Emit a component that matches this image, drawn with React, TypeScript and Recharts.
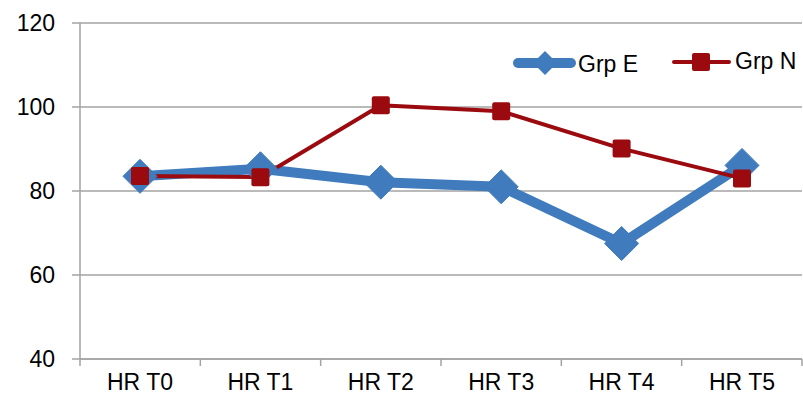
import React from 'react'
import { LineChart, Line, XAxis, YAxis, CartesianGrid, Legend } from 'recharts'

const categories = ['HR T0', 'HR T1', 'HR T2', 'HR T3', 'HR T4', 'HR T5']
const grpE = [83.5, 85.3, 82.1, 81.0, 67.5, 86.1]
const grpN = [83.6, 83.3, 100.4, 99.0, 90.1, 83.0]
const yTicks = [40, 60, 80, 100, 120]
// category boundaries, where the x axis tick marks sit
const bounds = [-0.5, 0.5, 1.5, 2.5, 3.5, 4.5, 5.5]

const BLUE = '#3f7bbd'
const RED = '#9b0a0e'
const GRID = '#a3a3a3'
const FONT = '"Liberation Sans", Arial, sans-serif'
const FS = 23

const data = categories.map((name, i) => ({ name, idx: i, e: grpE[i], n: grpN[i] }))

function Diamond(props: any) {
  const { cx, cy, index } = props
  const r = 17
  return (
    <polygon
      key={`d-${index}`}
      points={`${cx},${cy - r} ${cx + r},${cy} ${cx},${cy + r} ${cx - r},${cy}`}
      fill={BLUE}
      stroke={BLUE}
      strokeWidth={1}
      strokeLinejoin="round"
    />
  )
}

function Square(props: any) {
  const { cx, cy, index } = props
  const s = 18
  return <rect key={`s-${index}`} x={cx - s / 2} y={cy - s / 2} width={s} height={s} rx={2} fill={RED} />
}

function LegendBox() {
  return (
    <div style={{ position: 'relative', height: 0, width: 803 }}>
      <svg width={803} height={90} style={{ position: 'absolute', left: 0, top: 0, overflow: 'visible' }}>
        <line x1={518} y1={63} x2={571} y2={63} stroke={BLUE} strokeWidth={10} strokeLinecap="round" />
        <polygon points="545,51 557,63 545,75 533,63" fill={BLUE} />
        <text x={578} y={72} fontFamily={FONT} fontSize={FS}>Grp E</text>
        <line x1={674} y1={62} x2={729} y2={62} stroke={RED} strokeWidth={4} strokeLinecap="round" />
        <rect x={692} y={53} width={18} height={18} rx={2} fill={RED} />
        <text x={735} y={69} fontFamily={FONT} fontSize={FS}>Grp N</text>
      </svg>
    </div>
  )
}

export default function App() {
  return (
    <div style={{ position: 'absolute', left: 0, top: 0, width: 803, height: 404, background: '#fff' }}>
      <LineChart width={803} height={404} data={data} margin={{ top: 23, right: 1, bottom: 0, left: 0 }}>
        <CartesianGrid horizontal vertical={false} stroke={GRID} strokeWidth={1.5} />
        <XAxis
          xAxisId={0}
          dataKey="idx"
          type="number"
          domain={[bounds[0], bounds[bounds.length - 1]]}
          ticks={bounds}
          allowDataOverflow
          height={1}
          tickSize={7}
          tickFormatter={() => ''}
          stroke={GRID}
          axisLine={{ stroke: GRID, strokeWidth: 1.5 }}
          tickLine={{ stroke: GRID, strokeWidth: 1.5 }}
        />
        <XAxis
          xAxisId="cat"
          dataKey="name"
          height={44}
          padding={{ left: 60, right: 60 }}
          axisLine={false}
          tickLine={false}
          tickSize={7}
          tickMargin={7}
          interval={0}
          tick={{ fontSize: FS, fill: '#000', fontFamily: FONT }}
        />
        <YAxis
          domain={[40, 120]}
          ticks={yTicks}
          width={80}
          tickSize={8}
          tickMargin={17}
          axisLine={{ stroke: GRID, strokeWidth: 1.5 }}
          tickLine={{ stroke: GRID, strokeWidth: 1.5 }}
          tick={{ fontSize: FS, fill: '#000', fontFamily: FONT }}
        />
        <Legend content={() => <LegendBox />} wrapperStyle={{ top: 0, left: 0, width: 803, height: 0 }} />
        <Line
          xAxisId="cat"
          dataKey="e"
          name="Grp E"
          type="linear"
          stroke={BLUE}
          strokeWidth={10}
          strokeLinejoin="round"
          dot={Diamond}
          activeDot={false}
          isAnimationActive={false}
        />
        <Line
          xAxisId="cat"
          dataKey="n"
          name="Grp N"
          type="linear"
          stroke={RED}
          strokeWidth={4}
          dot={Square}
          activeDot={false}
          isAnimationActive={false}
        />
      </LineChart>
    </div>
  )
}
